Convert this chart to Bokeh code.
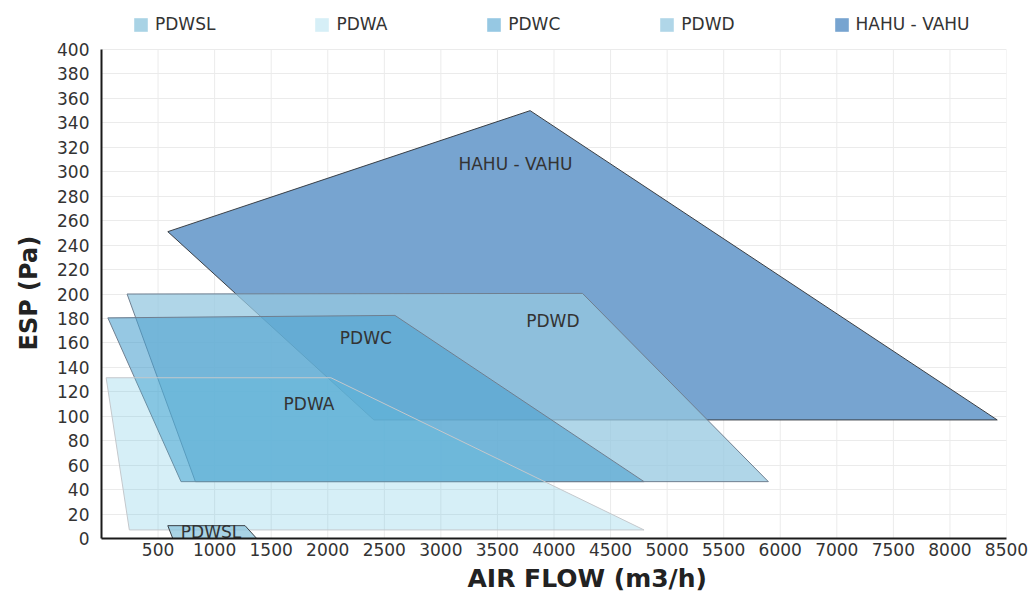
from bokeh.plotting import figure
from bokeh.models import FixedTicker, Legend, LegendItem, Title, Range1d
from bokeh.core.properties import value
from bokeh.embed import file_html
from bokeh.resources import INLINE

# ---- data (x in axis position units, y in Pa) ----
series_names = ["PDWSL", "PDWA", "PDWC", "PDWD", "HAHU - VAHU"]

hahu_x = [586, 3789, 7918, 2408]
hahu_y = [251, 350, 97, 97]

pdwd_x = [226, 4252, 5895, 830]
pdwd_y = [200, 200.5, 46.5, 46.5]

pdwc_x = [56, 2594, 4796, 703]
pdwc_y = [180.5, 182.5, 46.5, 46.5]

pdwa_x = [41, 2028, 4796, 246]
pdwa_y = [131.5, 131.5, 7, 7]

pdwsl_x = [586, 1269, 1372, 630]
pdwsl_y = [10.5, 10.5, 0, 0]

x_ticks = [500, 1000, 1500, 2000, 2500, 3000, 3500, 4000,
           4500, 5000, 5500, 6000, 6500, 7000, 7500, 8000]
x_tick_labels = ["500", "1000", "1500", "2000", "2500", "3000", "3500", "4000",
                 "4500", "5000", "5500", "6000", "7000", "7500", "8000", "8500"]
y_ticks = [0, 20, 40, 60, 80, 100, 120, 140, 160, 180, 200,
           220, 240, 260, 280, 300, 320, 340, 360, 380, 400]

label_text = ["HAHU - VAHU", "PDWD", "PDWC", "PDWA", "PDWSL"]
label_x = [3659, 3990, 2337, 1834, 968]
label_y = [306.5, 178, 164, 110, 5.3]

FONT = "DejaVu Sans"
Y_TOP = 440.1  # headroom above 400 that holds the legend

p = figure(width=1033, height=604, x_range=Range1d(0, 8000), y_range=Range1d(0, Y_TOP),
           output_backend="svg", toolbar_location=None,
           min_border_left=100, min_border_right=27, min_border_top=0, min_border_bottom=66)
p.outline_line_color = None
p.background_fill_color = "white"

# vertical grid lines limited to the 0..400 band
n = len(x_ticks)
p.segment(x0=x_ticks, y0=[y_ticks[0]] * n, x1=x_ticks, y1=[y_ticks[-1]] * n,
          line_color="#ebebeb", line_width=1, level="underlay")

styles = [
    # name, xs, ys, fill, alpha, line
    ("HAHU - VAHU", hahu_x, hahu_y, "#77a4d0", 1.0, "#3a3f45"),
    ("PDWD", pdwd_x, pdwd_y, "#96c8e0", 0.75, "#6f7f90"),
    ("PDWC", pdwc_x, pdwc_y, "#479ece", 0.57, "#6f7f90"),
    ("PDWA", pdwa_x, pdwa_y, "#5bc0de", 0.25, "#c4c8cc"),
    ("PDWSL", pdwsl_x, pdwsl_y, "#8cc4dc", 0.75, "#3a3f45"),
]

fill_renderers = {}
for name, xs, ys, fill, alpha, line in styles:
    r = p.patch(xs, ys, fill_color=fill, fill_alpha=alpha, line_alpha=0)
    p.patch(xs, ys, fill_alpha=0, line_color=line, line_width=1)
    fill_renderers[name] = r

p.text(x=label_x, y=label_y, text=label_text, text_align="center", text_baseline="middle",
       text_font=value(FONT), text_font_size="17px", text_color="#333333")

legend = Legend(items=[LegendItem(label=nm, renderers=[fill_renderers[nm]]) for nm in series_names],
                orientation="horizontal", location=(31, 504), padding=0, margin=0, spacing=98,
                glyph_width=17, glyph_height=17, label_standoff=6,
                background_fill_alpha=0, border_line_alpha=0,
                label_text_font=FONT, label_text_font_size="17px", label_text_color="#333333")
p.add_layout(legend)

# axes
p.xaxis.ticker = FixedTicker(ticks=x_ticks)
p.xaxis.major_label_overrides = {t: l for t, l in zip(x_ticks, x_tick_labels)}
p.yaxis.ticker = FixedTicker(ticks=y_ticks)
p.yaxis.bounds = (y_ticks[0], y_ticks[-1])
for ax in (p.xaxis, p.yaxis):
    ax.axis_line_color = "#1a1a1a"
    ax.axis_line_width = 2
    ax.major_tick_out = 0
    ax.major_tick_in = 0
    ax.minor_tick_line_color = None
    ax.major_label_text_font = FONT
    ax.major_label_text_font_size = "17px"
    ax.major_label_text_color = "#333333"
p.xaxis.major_label_standoff = 4
p.yaxis.major_label_standoff = 12

p.xgrid.visible = False
p.ygrid.grid_line_color = "#ebebeb"
p.ygrid.grid_line_width = 1

ytitle = Title(text="ESP (Pa)", align="left", offset=188, standoff=24,
               text_font=FONT, text_font_style="bold", text_font_size="24px",
               text_color="#222222")
p.add_layout(ytitle, "left")

xtitle = Title(text="AIR FLOW (m3/h)", align="left", vertical_align="top", offset=366, standoff=10,
               text_font=FONT, text_font_style="bold", text_font_size="25px",
               text_color="#222222")
p.add_layout(xtitle, "below")

open("out.html", "w").write(file_html(p, INLINE))
